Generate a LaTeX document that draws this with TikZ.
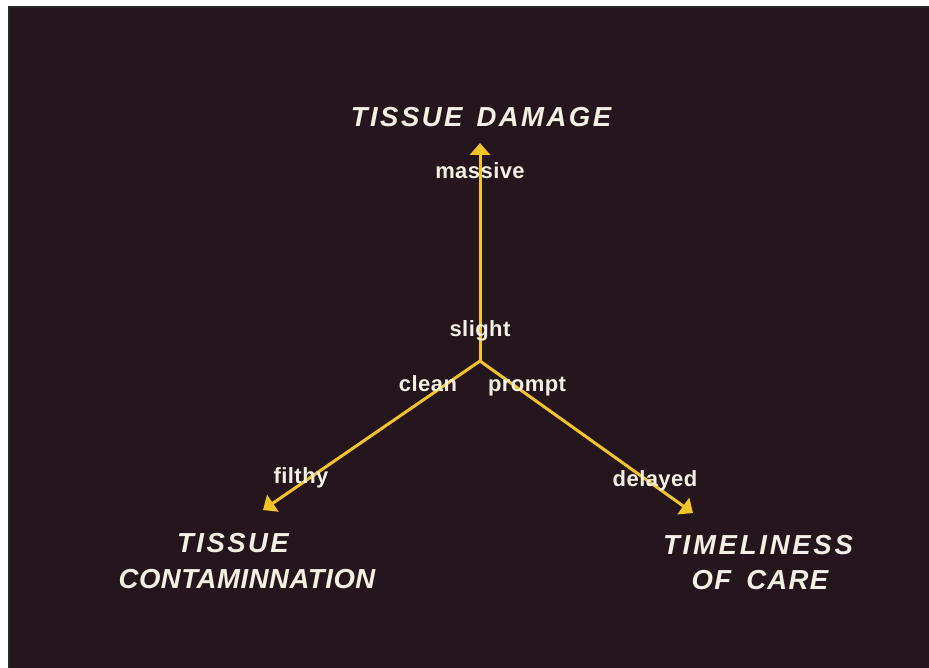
\documentclass[tikz,border=0pt]{standalone}
\usepackage{fontspec}
\usetikzlibrary{arrows.meta}
\newfontfamily\lblfont[LetterSpace=2]{Liberation Sans}
\newfontfamily\ttlA[LetterSpace=5]{Liberation Sans}
\newfontfamily\ttlB[LetterSpace=2]{Liberation Sans}
\newfontfamily\ttlC[LetterSpace=10]{Liberation Sans}
\newfontfamily\ttlD[LetterSpace=9]{Liberation Sans}
\definecolor{bgdark}{HTML}{25151C}
\definecolor{txtw}{HTML}{F4F0E4}
\definecolor{arry}{HTML}{F2C42A}
\tikzset{
  lbl/.style={text=txtw, inner sep=0pt, anchor=base, font=\lblfont\bfseries\fontsize{22}{22}\selectfont},
  ttl/.style={text=txtw, inner sep=0pt, anchor=base},
  tsz/.style={font=#1\bfseries\itshape\fontsize{27.5}{27.5}\selectfont},
  axis/.style={draw=arry, line width=3pt, -{Triangle[length=12pt,width=20pt]}}
}
\begin{document}
\begin{tikzpicture}[x=1pt,y=-1pt]
\useasboundingbox (0,0) rectangle (929,668);
\fill[white] (0,0) rectangle (929,668);
\fill[bgdark] (9,7) rectangle (929,668);
\draw[black!85, line width=2pt] (9,668) -- (9,7) -- (929,7);
% axes
\coordinate (c) at (480,361);
\coordinate (up) at (480,143);
\coordinate (lt) at (263,510);
\coordinate (rt) at (693,513);
\draw[axis] (c) -- (up);
\draw[axis] (c) -- (lt);
\draw[axis] (c) -- (rt);
% labels
\node[lbl] (massive) at (480,179) {massive};
\node[lbl] (slight) at (480,336) {slight};
\node[lbl] (clean) at (428,391) {clean};
\node[lbl] (prompt) at (527,391) {prompt};
\node[lbl] (filthy) at (301,483) {filthy};
\node[lbl] (delayed) at (655,486) {delayed};
% titles
\node[ttl, tsz=\ttlD] (td) at (481,127) {TISSUE\hspace{14pt}DAMAGE};
\node[ttl, tsz=\ttlD] (tc1) at (233,552) {TISSUE};
\node[ttl, tsz=\ttlB] (tc2) at (247,588) {CONTAMINNATION};
\node[ttl, tsz=\ttlC] (tl1) at (758,554) {TIMELINESS};
\node[ttl, tsz=\ttlA] (tl2) at (760,589) {OF\hspace{15pt}CARE};
\end{tikzpicture}
\end{document}
